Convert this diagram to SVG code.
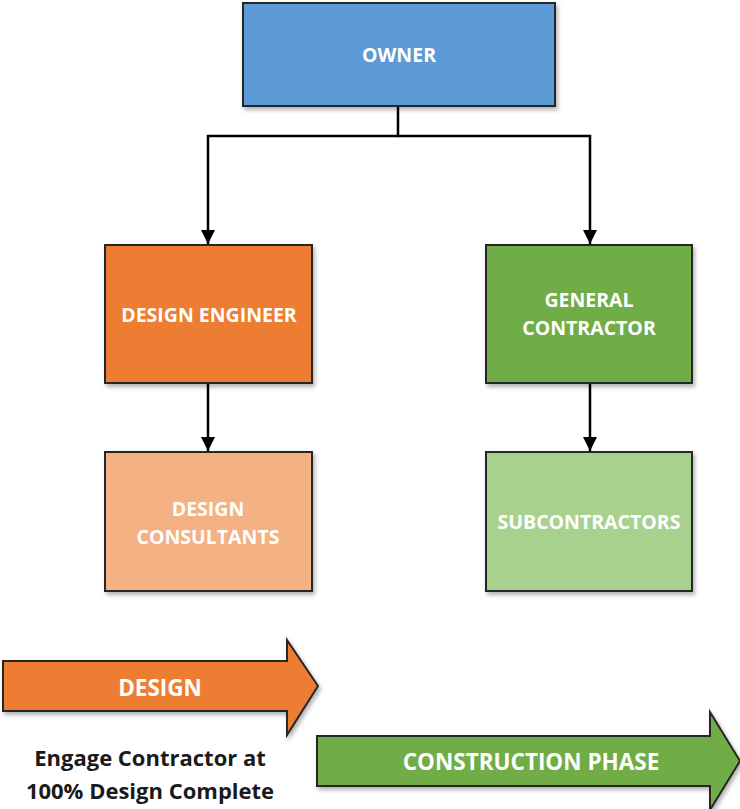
<svg xmlns="http://www.w3.org/2000/svg" width="740" height="809" viewBox="0 0 740 809">
<defs>
<style>
.box{stroke:#262626;stroke-width:2}
.lbl{font-family:"Open Sans","Liberation Sans",sans-serif;font-weight:bold;font-size:19.5px;fill:#ffffff;text-anchor:middle}
.big{font-family:"Open Sans","Liberation Sans",sans-serif;font-weight:bold;font-size:22.5px;fill:#ffffff;text-anchor:middle}
.con{fill:none;stroke:#000;stroke-width:2.5}
.note{font-family:"Open Sans","Liberation Sans",sans-serif;font-weight:bold;font-size:22px;fill:#1a1a1a;text-anchor:middle}
</style>
<filter id="sh" x="-10%" y="-10%" width="130%" height="130%">
<feDropShadow dx="2" dy="3" stdDeviation="2" flood-color="#000" flood-opacity="0.3"/>
</filter>
<marker id="ah" markerWidth="14" markerHeight="14" refX="14" refY="7" orient="auto" markerUnits="userSpaceOnUse" viewBox="0 0 14 14">
<path d="M0,0 L14,7 L0,14 Z" fill="#000"/>
</marker>
</defs>
<rect width="740" height="809" fill="#ffffff"/>
<g id="connectors">
<path class="con" d="M398,106 V136 H208 V244" marker-end="url(#ah)"/>
<path class="con" d="M398,136 H590 V244" marker-end="url(#ah)"/>
<path class="con" d="M208,383 V451" marker-end="url(#ah)"/>
<path class="con" d="M590,383 V451" marker-end="url(#ah)"/>
</g>
<g id="owner">
<rect class="box" x="243" y="3" width="312" height="103" fill="#5B9BD5" filter="url(#sh)"/>
<text class="lbl" x="399" y="62">OWNER</text>
</g>
<g id="design-engineer">
<rect class="box" x="105" y="245" width="207" height="138" fill="#ED7D31" filter="url(#sh)"/>
<text class="lbl" x="209" y="322">DESIGN ENGINEER</text>
</g>
<g id="general-contractor">
<rect class="box" x="486" y="245" width="206" height="138" fill="#70AD47" filter="url(#sh)"/>
<text class="lbl" x="589" y="307">GENERAL</text>
<text class="lbl" x="589" y="335">CONTRACTOR</text>
</g>
<g id="design-consultants">
<rect class="box" x="105" y="452" width="207" height="139" fill="#F4B183" filter="url(#sh)"/>
<text class="lbl" x="208" y="516">DESIGN</text>
<text class="lbl" x="208" y="544">CONSULTANTS</text>
</g>
<g id="subcontractors">
<rect class="box" x="486" y="452" width="206" height="139" fill="#A9D18E" filter="url(#sh)"/>
<text class="lbl" x="589" y="529">SUBCONTRACTORS</text>
</g>
<g id="design-arrow">
<path class="box" d="M3,661 H287 V640 L318,686 L287,735 V711 H3 Z" fill="#ED7D31" filter="url(#sh)"/>
<text class="big" x="160" y="696">DESIGN</text>
</g>
<g id="construction-arrow">
<path class="box" d="M317,736 H710 V712 L740,761 L710,810 V786 H317 Z" fill="#70AD47" filter="url(#sh)"/>
<text class="big" x="531" y="770">CONSTRUCTION PHASE</text>
</g>
<g id="note">
<text class="note" x="150" y="766">Engage Contractor at</text>
<text class="note" x="150" y="799">100% Design Complete</text>
</g>
</svg>
